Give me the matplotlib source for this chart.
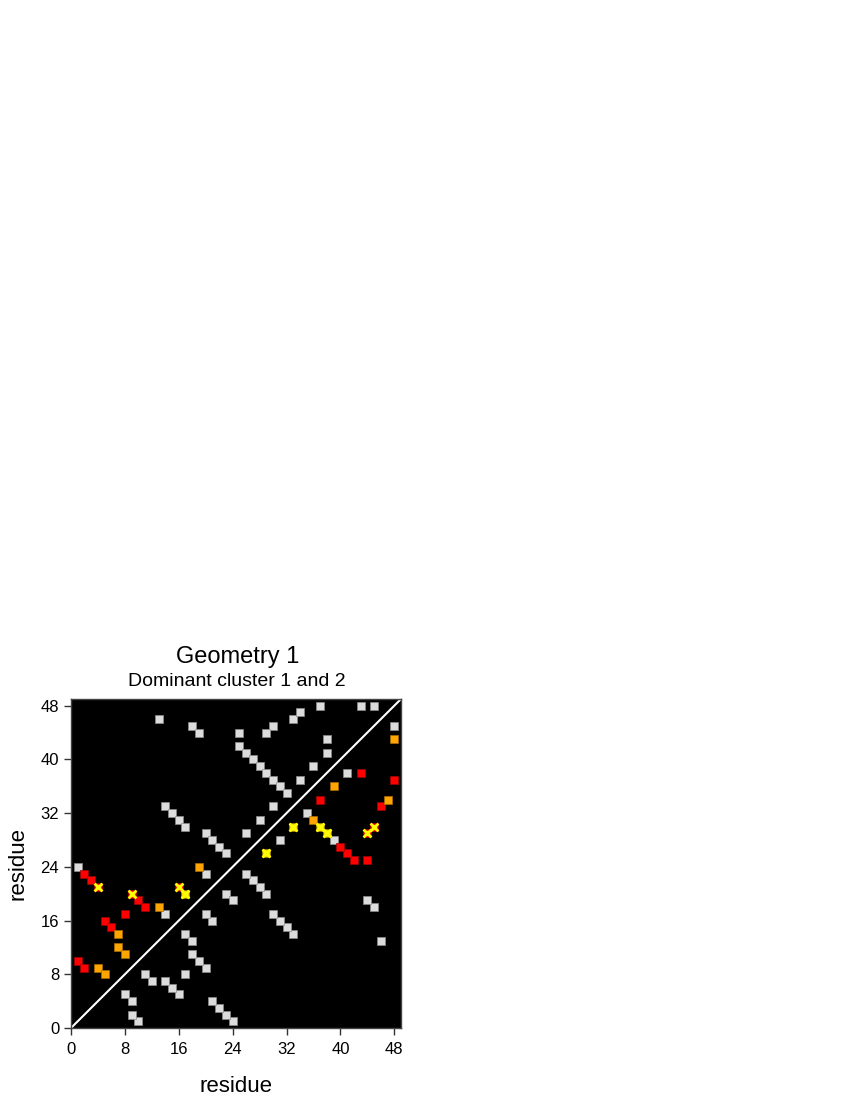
import matplotlib
matplotlib.use("Agg")
import matplotlib.pyplot as plt

plt.rcParams['font.family'] = ['Liberation Sans', 'DejaVu Sans']

# contacts (i < j); upper-left cell drawn at (i, j), lower-right cell at (j, i)
pair_i = [1, 13, 18, 19, 25, 25, 26, 27, 28, 29, 30, 31, 32, 14, 15, 16, 17, 20, 21, 22,
          23, 20, 26, 30, 29, 33, 34, 37, 43, 45, 38, 38, 36, 34, 30, 28, 14,
          2, 3, 4, 9, 10, 11, 13, 8, 5, 6, 7, 7, 8, 1, 2, 4, 5, 19, 16, 17]
pair_j = [24, 46, 45, 44, 44, 42, 41, 40, 39, 38, 37, 36, 35, 33, 32, 31, 30, 29, 28, 27,
          26, 23, 29, 45, 44, 46, 47, 48, 48, 48, 43, 41, 39, 37, 33, 31, 17,
          23, 22, 21, 20, 19, 18, 18, 17, 16, 15, 14, 12, 11, 10, 9, 9, 8, 24, 21, 20]
# states: G gray, R red, O orange, RX red + cross, YX gold + cross
upper_state = ['G'] * 37 + ['R', 'R', 'RX', 'RX', 'R', 'R', 'O', 'R', 'R', 'R', 'O', 'O', 'O',
                            'R', 'R', 'O', 'O', 'O', 'RX', 'YX']
lower_state = ['G', 'G', 'G', 'G', 'R', 'R', 'R', 'R', 'G', 'YX', 'YX', 'O', 'G', 'G', 'G', 'G',
               'G', 'G', 'G', 'G', 'G', 'G', 'YX', 'RX', 'RX', 'R', 'O', 'R', 'O', 'G', 'R', 'G',
               'O', 'R', 'YX', 'G', 'G'] + ['G'] * 20

ticks = [0, 8, 16, 24, 32, 40, 48]
title = "Geometry 1"
subtitle = "Dominant cluster 1 and 2"

fill = {'G': '#dcdcdc', 'R': '#ff0000', 'O': '#ffa500', 'RX': '#ff1a00', 'YX': '#ffd000'}
edge = {'G': '#8c8c8c', 'R': '#a00000', 'O': '#a86c00', 'RX': '#a00000', 'YX': '#a08000'}

fig = plt.figure(figsize=(8.5, 11), dpi=100)
ax = fig.add_axes([71 / 850, 72 / 1100, 330 / 850, 329 / 1100])
ax.set_facecolor('black')
ax.set_xlim(0, 49)
ax.set_ylim(0, 49)
ax.plot([0, 49], [0, 49], color='white', lw=1.5, zorder=1)

xs, ys, st = [], [], []
for i, j, u, l in zip(pair_i, pair_j, upper_state, lower_state):
    xs += [i, j]
    ys += [j, i]
    st += [u, l]

for key in ['G', 'R', 'O', 'RX', 'YX']:
    px = [x for x, s in zip(xs, st) if s == key]
    py = [y for y, s in zip(ys, st) if s == key]
    ax.scatter(px, py, marker='s', s=33, c=fill[key], edgecolors=edge[key],
               linewidths=0.5, zorder=2, clip_on=True)
    if key in ('RX', 'YX'):
        ax.scatter(px, py, marker='x', s=32, c='#ffff00', linewidths=2.0, zorder=3)

ax.set_xticks(ticks)
ax.set_yticks(ticks)
ax.tick_params(direction='out', length=5, width=1, labelsize=12, color='#333333')
ax.tick_params(axis='x', pad=5)
for sp in ax.spines.values():
    sp.set_color('#444444')
    sp.set_linewidth(1.0)
ax.set_xlabel('residue', fontsize=16, labelpad=14)
ax.set_ylabel('residue', fontsize=16, labelpad=9)

fig.text(238 / 850, 1 - 657 / 1100, title, fontsize=17, ha='center', va='center')
fig.text(237 / 850, 1 - 682 / 1100, subtitle, fontsize=14, ha='center', va='center')

fig.savefig('out.png', dpi=100)
